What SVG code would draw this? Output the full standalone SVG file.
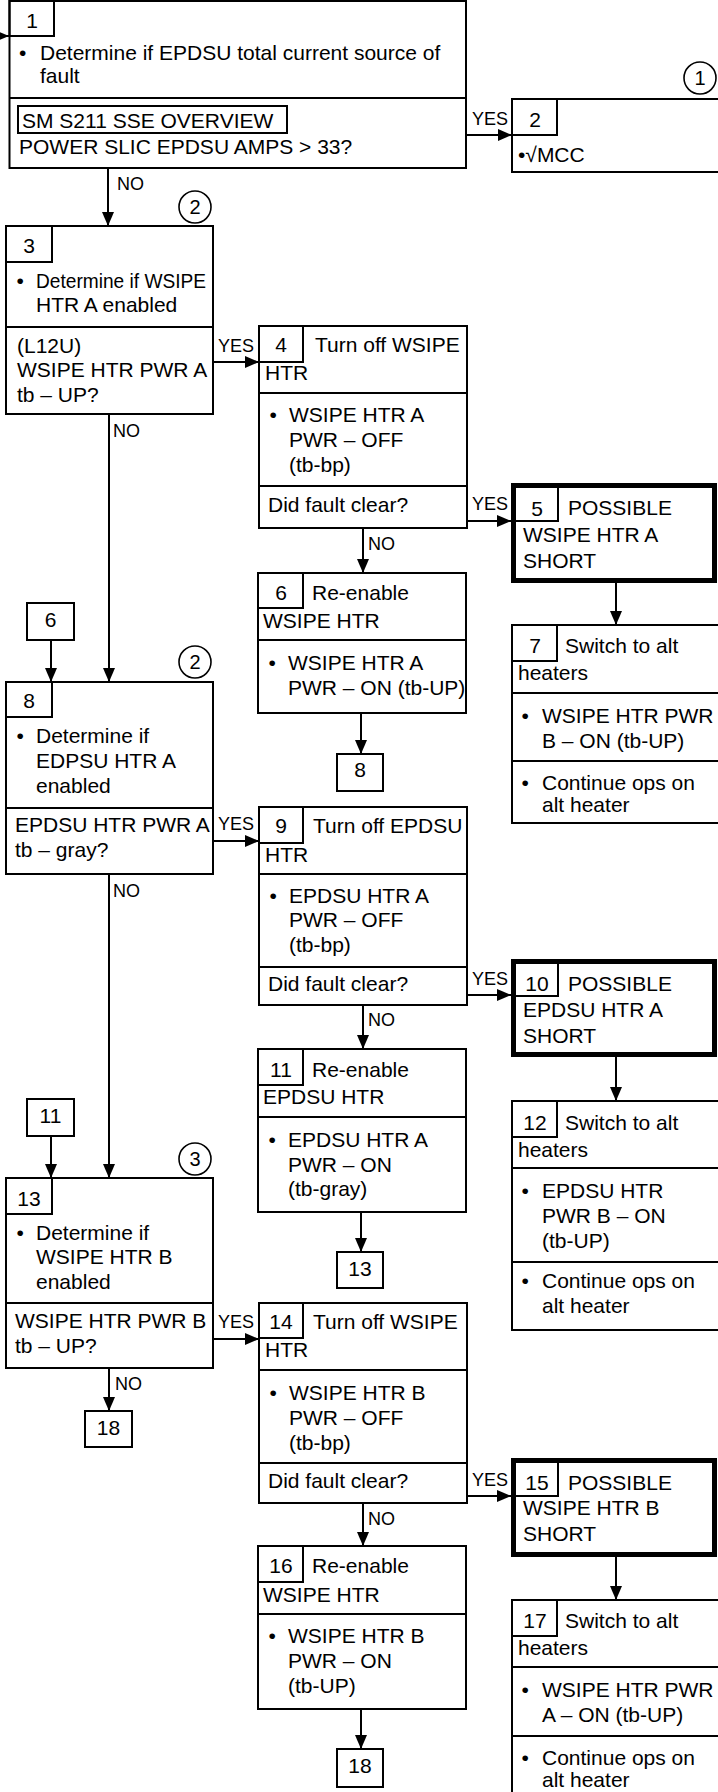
<svg xmlns="http://www.w3.org/2000/svg" width="718" height="1792" viewBox="0 0 718 1792">
<style>
  .b { fill: #fff; stroke: #000; stroke-width: 2; }
  .thick { fill: #fff; stroke: #000; stroke-width: 5; }
  .tab { fill: none; stroke: #000; stroke-width: 2; }
  .dv { stroke: #000; stroke-width: 2; }
  .c { fill: #fff; stroke: #000; stroke-width: 1.6; }
  .ln { stroke: #000; stroke-width: 2; fill: none; }
  text { font-family: "Liberation Sans", Arial, sans-serif; font-size: 21px; fill: #000; }
  .num { text-anchor: middle; }
  .cn { text-anchor: middle; font-size: 20px; }
  .yn { font-family: "Liberation Sans Narrow", "Arial Narrow", "Liberation Sans", sans-serif; font-size: 18px; }
</style>
<defs>
  <marker id="ah" markerUnits="userSpaceOnUse" markerWidth="14" markerHeight="12" refX="14" refY="6" orient="auto">
    <path d="M0,0 L14,6 L0,12 z" fill="#000"/>
  </marker>
</defs>
<rect width="718" height="1792" fill="#fff"/>

<g id="connectors">
  <line class="ln" x1="-4" y1="36" x2="9" y2="36" marker-end="url(#ah)"/>
  <line class="ln" x1="466" y1="135" x2="512" y2="135" marker-end="url(#ah)"/>
  <text class="yn" x="472" y="125">YES</text>
  <line class="ln" x1="108" y1="168" x2="108" y2="226" marker-end="url(#ah)"/>
  <text class="yn" x="117" y="190">NO</text>
  <line class="ln" x1="213" y1="362" x2="259" y2="362" marker-end="url(#ah)"/>
  <text class="yn" x="218" y="352">YES</text>
  <line class="ln" x1="109" y1="414" x2="109" y2="682" marker-end="url(#ah)"/>
  <text class="yn" x="113" y="437">NO</text>
  <line class="ln" x1="467" y1="521" x2="511" y2="521" marker-end="url(#ah)"/>
  <text class="yn" x="472" y="510">YES</text>
  <line class="ln" x1="363" y1="528" x2="363" y2="573" marker-end="url(#ah)"/>
  <text class="yn" x="368" y="550">NO</text>
  <line class="ln" x1="616" y1="583" x2="616" y2="625" marker-end="url(#ah)"/>
  <line class="ln" x1="361" y1="713" x2="361" y2="754" marker-end="url(#ah)"/>
  <line class="ln" x1="51" y1="640" x2="51" y2="682" marker-end="url(#ah)"/>
  <line class="ln" x1="213" y1="841" x2="259" y2="841" marker-end="url(#ah)"/>
  <text class="yn" x="218" y="830">YES</text>
  <line class="ln" x1="109" y1="874" x2="109" y2="1178" marker-end="url(#ah)"/>
  <text class="yn" x="113" y="897">NO</text>
  <line class="ln" x1="467" y1="995" x2="511" y2="995" marker-end="url(#ah)"/>
  <text class="yn" x="472" y="985">YES</text>
  <line class="ln" x1="363" y1="1005" x2="363" y2="1049" marker-end="url(#ah)"/>
  <text class="yn" x="368" y="1026">NO</text>
  <line class="ln" x1="616" y1="1057" x2="616" y2="1101" marker-end="url(#ah)"/>
  <line class="ln" x1="361" y1="1212" x2="361" y2="1252" marker-end="url(#ah)"/>
  <line class="ln" x1="51" y1="1136" x2="51" y2="1178" marker-end="url(#ah)"/>
  <line class="ln" x1="213" y1="1339" x2="259" y2="1339" marker-end="url(#ah)"/>
  <text class="yn" x="218" y="1328">YES</text>
  <line class="ln" x1="109" y1="1368" x2="109" y2="1411" marker-end="url(#ah)"/>
  <text class="yn" x="115" y="1390">NO</text>
  <line class="ln" x1="467" y1="1496" x2="511" y2="1496" marker-end="url(#ah)"/>
  <text class="yn" x="472" y="1486">YES</text>
  <line class="ln" x1="363" y1="1503" x2="363" y2="1546" marker-end="url(#ah)"/>
  <text class="yn" x="368" y="1525">NO</text>
  <line class="ln" x1="616" y1="1557" x2="616" y2="1600" marker-end="url(#ah)"/>
  <line class="ln" x1="361" y1="1709" x2="361" y2="1749" marker-end="url(#ah)"/>
</g>

<g id="n1">
  <rect class="b" x="9.5" y="1" width="456.5" height="167"/>
  <rect class="tab" x="9.5" y="1" width="44.5" height="35"/>
  <text class="num" x="32" y="28">1</text>
  <text x="19" y="60">•</text>
  <text x="40" y="60">Determine if EPDSU total current source of</text>
  <text x="40" y="83">fault</text>
  <line class="dv" x1="9.5" y1="98" x2="466" y2="98"/>
  <rect class="tab" x="18" y="106" width="269" height="27"/>
  <text x="22" y="128">SM S211 SSE OVERVIEW</text>
  <text x="19" y="154">POWER SLIC EPDSU AMPS &gt; 33?</text>
</g>

<g id="n2">
  <rect class="b" x="512" y="99" width="220" height="73"/>
  <rect class="tab" x="512" y="99" width="45" height="36"/>
  <text class="num" x="535" y="127">2</text>
  <text x="518" y="162">•√MCC</text>
</g>

<g id="c1"><circle class="c" cx="700" cy="78" r="16"/><text class="cn" x="700" y="85">1</text></g>
<g id="c2a"><circle class="c" cx="195" cy="207" r="16"/><text class="cn" x="195" y="214">2</text></g>
<g id="c2b"><circle class="c" cx="195" cy="662" r="16"/><text class="cn" x="195" y="669">2</text></g>
<g id="c3"><circle class="c" cx="195" cy="1159" r="16"/><text class="cn" x="195" y="1166">3</text></g>

<g id="n3">
  <rect class="b" x="6" y="226" width="207" height="188"/>
  <rect class="tab" x="6" y="226" width="46" height="36"/>
  <text class="num" x="29" y="253">3</text>
  <text x="16.5" y="288">•</text>
  <text x="36" y="288" textLength="170" lengthAdjust="spacingAndGlyphs">Determine if WSIPE</text>
  <text x="36" y="312">HTR A enabled</text>
  <line class="dv" x1="6" y1="327" x2="213" y2="327"/>
  <text x="17" y="353">(L12U)</text>
  <text x="17" y="377">WSIPE HTR PWR A</text>
  <text x="17" y="402">tb – UP?</text>
</g>

<g id="n4">
  <rect class="b" x="259" y="326" width="208" height="202"/>
  <rect class="tab" x="259" y="326" width="44" height="36"/>
  <text class="num" x="281" y="352">4</text>
  <text x="315" y="352">Turn off WSIPE</text>
  <text x="265" y="380">HTR</text>
  <line class="dv" x1="259" y1="393" x2="467" y2="393"/>
  <text x="269.5" y="422">•</text>
  <text x="289" y="422">WSIPE HTR A</text>
  <text x="289" y="447">PWR – OFF</text>
  <text x="289" y="472">(tb-bp)</text>
  <line class="dv" x1="259" y1="486" x2="467" y2="486"/>
  <text x="268" y="512">Did fault clear?</text>
</g>

<g id="n5">
  <rect class="thick" x="513.5" y="485.5" width="201" height="95"/>
  <rect class="tab" x="515" y="487" width="43" height="34"/>
  <text class="num" x="537" y="516">5</text>
  <text x="568" y="515">POSSIBLE</text>
  <text x="523" y="542">WSIPE HTR A</text>
  <text x="523" y="568">SHORT</text>
</g>

<g id="n6">
  <rect class="b" x="258" y="573" width="208" height="140"/>
  <rect class="tab" x="258" y="573" width="45" height="35"/>
  <text class="num" x="281" y="600">6</text>
  <text x="312" y="600">Re-enable</text>
  <text x="263" y="628">WSIPE HTR</text>
  <line class="dv" x1="258" y1="640" x2="466" y2="640"/>
  <text x="268.5" y="670">•</text>
  <text x="288" y="670">WSIPE HTR A</text>
  <text x="288" y="695">PWR – ON (tb-UP)</text>
</g>

<g id="ref8">
  <rect class="b" x="337" y="754" width="46" height="37"/>
  <text class="num" x="360" y="777">8</text>
</g>

<g id="n7">
  <rect class="b" x="512" y="625" width="220" height="198"/>
  <rect class="tab" x="512" y="625" width="45" height="36"/>
  <text class="num" x="535" y="653">7</text>
  <text x="565" y="653">Switch to alt</text>
  <text x="518" y="680">heaters</text>
  <line class="dv" x1="512" y1="693" x2="732" y2="693"/>
  <text x="521.5" y="723">•</text>
  <text x="542" y="723">WSIPE HTR PWR</text>
  <text x="542" y="748">B – ON (tb-UP)</text>
  <line class="dv" x1="512" y1="761" x2="732" y2="761"/>
  <text x="521.5" y="790">•</text>
  <text x="542" y="790">Continue ops on</text>
  <text x="542" y="812">alt heater</text>
</g>

<g id="ref6">
  <rect class="b" x="27" y="603" width="47" height="37"/>
  <text class="num" x="50.5" y="627">6</text>
</g>

<g id="n8">
  <rect class="b" x="6" y="682" width="207" height="192"/>
  <rect class="tab" x="6" y="682" width="46" height="35"/>
  <text class="num" x="29" y="708">8</text>
  <text x="16.5" y="743">•</text>
  <text x="36" y="743">Determine if</text>
  <text x="36" y="768">EDPSU HTR A</text>
  <text x="36" y="793">enabled</text>
  <line class="dv" x1="6" y1="808" x2="213" y2="808"/>
  <text x="15" y="832">EPDSU HTR PWR A</text>
  <text x="15" y="857">tb – gray?</text>
</g>

<g id="n9">
  <rect class="b" x="259" y="807" width="208" height="198"/>
  <rect class="tab" x="259" y="807" width="44" height="36"/>
  <text class="num" x="281" y="833">9</text>
  <text x="313" y="833">Turn off EPDSU</text>
  <text x="265" y="862">HTR</text>
  <line class="dv" x1="259" y1="874" x2="467" y2="874"/>
  <text x="269.5" y="903">•</text>
  <text x="289" y="903">EPDSU HTR A</text>
  <text x="289" y="927">PWR – OFF</text>
  <text x="289" y="952">(tb-bp)</text>
  <line class="dv" x1="259" y1="967" x2="467" y2="967"/>
  <text x="268" y="991">Did fault clear?</text>
</g>

<g id="n10">
  <rect class="thick" x="513.5" y="961.5" width="201" height="93"/>
  <rect class="tab" x="515" y="963" width="43" height="33"/>
  <text class="num" x="537" y="991">10</text>
  <text x="568" y="991">POSSIBLE</text>
  <text x="523" y="1017">EPDSU HTR A</text>
  <text x="523" y="1043">SHORT</text>
</g>

<g id="n11">
  <rect class="b" x="258" y="1049" width="208" height="163"/>
  <rect class="tab" x="258" y="1049" width="45" height="36"/>
  <text class="num" x="281" y="1077">11</text>
  <text x="312" y="1077">Re-enable</text>
  <text x="263" y="1104">EPDSU HTR</text>
  <line class="dv" x1="258" y1="1117" x2="466" y2="1117"/>
  <text x="268.5" y="1147">•</text>
  <text x="288" y="1147">EPDSU HTR A</text>
  <text x="288" y="1172">PWR – ON</text>
  <text x="288" y="1196">(tb-gray)</text>
</g>

<g id="ref13">
  <rect class="b" x="337" y="1252" width="46" height="36"/>
  <text class="num" x="360" y="1276">13</text>
</g>

<g id="n12">
  <rect class="b" x="512" y="1101" width="220" height="229"/>
  <rect class="tab" x="512" y="1101" width="45" height="36"/>
  <text class="num" x="535" y="1130">12</text>
  <text x="565" y="1130">Switch to alt</text>
  <text x="518" y="1157">heaters</text>
  <line class="dv" x1="512" y1="1168" x2="732" y2="1168"/>
  <text x="521.5" y="1198">•</text>
  <text x="542" y="1198">EPDSU HTR</text>
  <text x="542" y="1223">PWR B – ON</text>
  <text x="542" y="1248">(tb-UP)</text>
  <line class="dv" x1="512" y1="1262" x2="732" y2="1262"/>
  <text x="521.5" y="1288">•</text>
  <text x="542" y="1288">Continue ops on</text>
  <text x="542" y="1313">alt heater</text>
</g>

<g id="ref11">
  <rect class="b" x="27" y="1099" width="47" height="37"/>
  <text class="num" x="50.5" y="1123">11</text>
</g>

<g id="n13">
  <rect class="b" x="6" y="1178" width="207" height="190"/>
  <rect class="tab" x="6" y="1178" width="46" height="36"/>
  <text class="num" x="29" y="1206">13</text>
  <text x="16.5" y="1240">•</text>
  <text x="36" y="1240">Determine if</text>
  <text x="36" y="1264">WSIPE HTR B</text>
  <text x="36" y="1289">enabled</text>
  <line class="dv" x1="6" y1="1303" x2="213" y2="1303"/>
  <text x="15" y="1328">WSIPE HTR PWR B</text>
  <text x="15" y="1353">tb – UP?</text>
</g>

<g id="ref18a">
  <rect class="b" x="85" y="1411" width="47" height="36"/>
  <text class="num" x="108.5" y="1435">18</text>
</g>

<g id="n14">
  <rect class="b" x="259" y="1303" width="208" height="200"/>
  <rect class="tab" x="259" y="1303" width="44" height="35"/>
  <text class="num" x="281" y="1329">14</text>
  <text x="313" y="1329">Turn off WSIPE</text>
  <text x="265" y="1357">HTR</text>
  <line class="dv" x1="259" y1="1370" x2="467" y2="1370"/>
  <text x="269.5" y="1400">•</text>
  <text x="289" y="1400">WSIPE HTR B</text>
  <text x="289" y="1425">PWR – OFF</text>
  <text x="289" y="1450">(tb-bp)</text>
  <line class="dv" x1="259" y1="1463" x2="467" y2="1463"/>
  <text x="268" y="1488">Did fault clear?</text>
</g>

<g id="n15">
  <rect class="thick" x="513.5" y="1460.5" width="201" height="94"/>
  <rect class="tab" x="515" y="1462" width="43" height="34"/>
  <text class="num" x="537" y="1490">15</text>
  <text x="568" y="1490">POSSIBLE</text>
  <text x="523" y="1515">WSIPE HTR B</text>
  <text x="523" y="1541">SHORT</text>
</g>

<g id="n16">
  <rect class="b" x="258" y="1546" width="208" height="163"/>
  <rect class="tab" x="258" y="1546" width="45" height="36"/>
  <text class="num" x="281" y="1573">16</text>
  <text x="312" y="1573">Re-enable</text>
  <text x="263" y="1602">WSIPE HTR</text>
  <line class="dv" x1="258" y1="1614" x2="466" y2="1614"/>
  <text x="268.5" y="1643">•</text>
  <text x="288" y="1643">WSIPE HTR B</text>
  <text x="288" y="1668">PWR – ON</text>
  <text x="288" y="1693">(tb-UP)</text>
</g>

<g id="ref18b">
  <rect class="b" x="337" y="1749" width="46" height="38"/>
  <text class="num" x="360" y="1773">18</text>
</g>

<g id="n17">
  <rect class="b" x="512" y="1600" width="220" height="210"/>
  <rect class="tab" x="512" y="1600" width="45" height="36"/>
  <text class="num" x="535" y="1628">17</text>
  <text x="565" y="1628">Switch to alt</text>
  <text x="518" y="1655">heaters</text>
  <line class="dv" x1="512" y1="1667" x2="732" y2="1667"/>
  <text x="521.5" y="1697">•</text>
  <text x="542" y="1697">WSIPE HTR PWR</text>
  <text x="542" y="1722">A – ON (tb-UP)</text>
  <line class="dv" x1="512" y1="1736" x2="732" y2="1736"/>
  <text x="521.5" y="1765">•</text>
  <text x="542" y="1765">Continue ops on</text>
  <text x="542" y="1787">alt heater</text>
</g>
</svg>
